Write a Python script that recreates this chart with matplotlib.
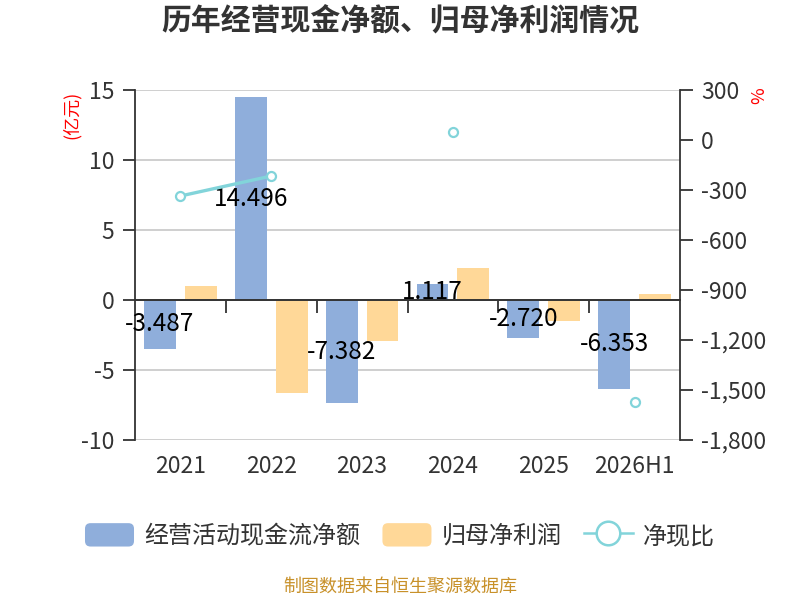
import matplotlib
matplotlib.use("Agg")
import matplotlib.pyplot as plt
import numpy as np
from matplotlib.patches import Patch, FancyBboxPatch
from matplotlib.lines import Line2D
from matplotlib.legend_handler import HandlerPatch
from matplotlib.ticker import FuncFormatter, FixedLocator

plt.rcParams['font.family'] = ['Noto Sans CJK SC', 'DejaVu Sans']
plt.rcParams['axes.unicode_minus'] = False

categories = ['2021', '2022', '2023', '2024', '2025', '2026H1']
cash_flow = [-3.487, 14.496, -7.382, 1.117, -2.720, -6.353]
net_profit = [1.02, -6.67, -2.93, 2.31, -1.48, 0.40]
cash_ratio = [-336, -216, np.nan, 48, np.nan, -1572]

BLUE = '#8faedb'
ORANGE = '#ffd898'
TEAL = '#82d4da'
DARK = '#333333'

fig = plt.figure(figsize=(8, 6), dpi=100)
ax = fig.add_axes([135/800, 1-440/600, 545/800, 350/600])
x = np.arange(len(categories))
w = 0.35
off = 0.225

b1 = ax.bar(x - off, cash_flow, width=w, color=BLUE, zorder=2)
b2 = ax.bar(x + off, net_profit, width=w, color=ORANGE, zorder=2)
ax.bar_label(b1, labels=[f'{v:.3f}' for v in cash_flow], label_type='center',
             fontsize=17.5, color='black', zorder=5)

ax.set_xlim(-0.5, 5.5)
ax.set_ylim(-10, 15)
ax.set_yticks([-10, -5, 0, 5, 10, 15])
ax.yaxis.grid(True, color='#cccccc', lw=1.3, zorder=0)
ax.set_axisbelow(True)
ax.axhline(0, color=DARK, lw=1.4, zorder=3)
ax.set_xticks(x)
ax.set_xticklabels(categories)
ax.tick_params(axis='x', length=0, pad=11, labelsize=16.5, labelcolor=DARK)
ax.tick_params(axis='y', length=9, width=1.3, color=DARK, labelsize=16.5,
               labelcolor=DARK, pad=6)
for s in ['top', 'right', 'bottom']:
    ax.spines[s].set_visible(False)
ax.spines['left'].set_color(DARK)
ax.spines['left'].set_linewidth(1.3)
ax.set_ylabel('(亿元)', color='red', fontsize=13)
ax.yaxis.set_label_coords(-0.10, 0.929)

# zero line with category boundary ticks
zax = ax.secondary_xaxis(10/25)
zax.spines['bottom'].set_color(DARK)
zax.spines['bottom'].set_linewidth(1.4)
zax.xaxis.set_major_locator(FixedLocator([0.5, 1.5, 2.5, 3.5, 4.5]))
zax.tick_params(axis='x', length=9, width=1.3, color=DARK, labelbottom=False, direction='out')

ax2 = ax.twinx()
ax2.plot(x, cash_ratio, color=TEAL, lw=2.4, marker='o', ms=6.5, mfc='white',
         mec=TEAL, mew=1.6, zorder=6)
ax2.set_ylim(-1800, 300)
ax2.set_yticks(np.arange(-1800, 301, 300))
ax2.yaxis.set_major_formatter(FuncFormatter(lambda v, p: f'{int(v):,}'))
ax2.tick_params(axis='y', length=9, width=1.3, color=DARK, labelsize=16.5,
                labelcolor=DARK, pad=6)
for s in ['top', 'left', 'bottom']:
    ax2.spines[s].set_visible(False)
ax2.spines['right'].set_color(DARK)
ax2.spines['right'].set_linewidth(1.3)
ax2.set_ylabel('%', color='red', fontsize=13, rotation=90)
ax2.yaxis.set_label_coords(1.128, 0.985)

fig.text(0.5, 1-22/600, '历年经营现金净额、归母净利润情况', ha='center', va='center',
         fontsize=21.5, fontweight='bold', color=DARK)
fig.text(0.5, 1-587/600, '制图数据来自恒生聚源数据库', ha='center', va='center',
         fontsize=13, color='#c8912a')


class RoundHandler(HandlerPatch):
    def create_artists(self, legend, orig_handle, xdescent, ydescent, width,
                       height, fontsize, trans):
        p = FancyBboxPatch((-xdescent, -ydescent), width, height,
                           boxstyle='round,pad=0,rounding_size=4',
                           facecolor=orig_handle.get_facecolor(),
                           edgecolor='none', transform=trans)
        return [p]


handles = [Patch(facecolor=BLUE), Patch(facecolor=ORANGE),
           Line2D([], [], color=TEAL, lw=1.8, marker='o', ms=17, mfc='white',
                  mec=TEAL, mew=1.8)]
labels = ['经营活动现金流净额', '归母净利润', '净现比']
fig.legend(handles, labels, loc='center', bbox_to_anchor=(0.5, 1-536/600), ncol=3,
           frameon=False, fontsize=17.3, handlelength=2.04, handleheight=1.12,
           handletextpad=0.42, columnspacing=0.93, labelcolor=DARK,
           handler_map={Patch: RoundHandler()})

fig.savefig('out.png', dpi=100)
